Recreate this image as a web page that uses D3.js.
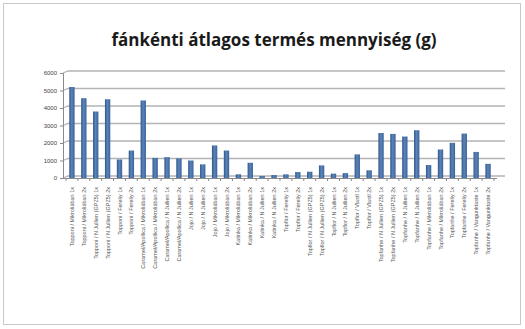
<!DOCTYPE html>
<html>
<head>
<meta charset="utf-8">
<script src="https://cdn.jsdelivr.net/npm/d3@7"></script>
<style>
  html, body { margin: 0; padding: 0; background: #fff; }
  svg { display: block; }
</style>
</head>
<body>
<svg id="chart" width="525" height="329"></svg>
<script>
// Average yield per tree (g), by variety / rootstock / treatment
const categories = [
  "Topponi / Mikroliában 1x", "Topponi / Mikroliában 2x",
  "Topponi / N Jullien (GPZ5) 1x", "Topponi / N Jullien (GPZ5) 2x",
  "Topponi / Fereliy 1x", "Topponi / Fereliy 2x",
  "Caramel/Apollica / Mikroliában 1x", "Caramel/Apollica / Mikroliában 2x",
  "Caramel/Apollica / N Jullien 1x", "Caramel/Apollica / N Jullien 2x",
  "Jojo / N Jullien 1x", "Jojo / N Jullien 2x",
  "Jojo / Mikroliában 1x", "Jojo / Mikroliában 2x",
  "Katinka / Mikroliában 1x", "Katinka / Mikroliában 2x",
  "Katinka / N Jullien 1x", "Katinka / N Jullien 2x",
  "Topflor / Fereliy 1x", "Topflor / Fereliy 2x",
  "Topflor / N Jullien (GPZ5) 1x", "Topflor / N Jullien (GPZ5) 2x",
  "Topflor / N Jullien 1x", "Topflor / N Jullien 2x",
  "Topflor / Vlastl 1x", "Topflor / Vlastl 2x",
  "Topfanhe / N Jullien (GPZ5) 1x", "Topfanhe / N Jullien (GPZ5) 2x",
  "Topfanhe / N Jullien 1x", "Topfanhe / N Jullien 2x",
  "Topfanhe / Mikroliában 1x", "Topfanhe / Mikroliában 2x",
  "Topfanhe / Fereliy 1x", "Topfanhe / Fereliy 2x",
  "Topfanhe / Vangunktaste 1x", "Topfanhe / Vangunktaste 2x"
];
const values = [
  5200, 4560, 3800, 4500, 1060, 1570,
  4430, 1150, 1190, 1120, 1000, 780,
  1860, 1570, 210, 870, 110, 170,
  210, 340, 360, 720, 250, 280,
  1350, 440, 2570, 2520, 2370, 2730,
  740, 1630, 2010, 2540, 1490, 810
];
const yTicks = [0, 1000, 2000, 3000, 4000, 5000, 6000];
const title = "fánkénti átlagos termés mennyiség (g)";

const svg = d3.select("#chart");

// outer frame
svg.append("rect")
  .attr("x", 3.5).attr("y", 3.5)
  .attr("width", 517).attr("height", 321)
  .attr("fill", "#fff")
  .attr("stroke", "#c8c8c8");

// title
svg.append("text")
  .attr("x", 274).attr("y", 46)
  .attr("text-anchor", "middle")
  .attr("font-family", "'Open Sans', sans-serif")
  .attr("font-weight", "bold")
  .attr("font-size", 17)
  .attr("fill", "#1a1a1a")
  .text(title);

const axisX = 63;
const depth = { dx: 5, dy: -2 };   // back-wall offset of the 3-D plot

const x = d3.scaleBand()
  .domain(categories)
  .range([66, 494])
  .paddingInner(0.55)
  .paddingOuter(0.275);

const y = d3.scaleLinear()
  .domain([0, 6000])
  .range([178, 73]);

// back-wall gridlines with the short diagonal joining the axis
const grid = svg.append("g");
yTicks.forEach(t => {
  const yy = y(t) + depth.dy;
  grid.append("path")
    .attr("d", `M${axisX},${y(t)} L${axisX + depth.dx},${yy} L505,${yy}`)
    .attr("fill", "none")
    .attr("stroke", "#b4b4b4")
    .attr("stroke-width", 1.3);
});

// y axis
const yAxis = d3.axisLeft(y)
  .tickValues(yTicks)
  .tickSize(3)
  .tickFormat(d3.format("d"));
const yg = svg.append("g")
  .attr("transform", `translate(${axisX},0)`)
  .call(yAxis);
yg.select(".domain").attr("stroke", "#8a8a8a");
yg.selectAll(".tick line").attr("stroke", "#8a8a8a");
yg.selectAll(".tick text")
  .attr("font-family", "'Liberation Sans', sans-serif")
  .attr("font-size", 6)
  .attr("fill", "#444")
  .attr("x", -6);

// bar shading
const defs = svg.append("defs");
const grad = defs.append("linearGradient")
  .attr("id", "barGrad")
  .attr("x1", "0").attr("x2", "1").attr("y1", "0").attr("y2", "0");
grad.append("stop").attr("offset", "0%").attr("stop-color", "#2f5687");
grad.append("stop").attr("offset", "45%").attr("stop-color", "#5a84bb");
grad.append("stop").attr("offset", "100%").attr("stop-color", "#3a6399");

// bars
svg.append("g").selectAll("rect")
  .data(categories.map((c, i) => ({ c, v: values[i] })))
  .join("rect")
  .attr("x", d => x(d.c))
  .attr("y", d => y(d.v))
  .attr("width", x.bandwidth())
  .attr("height", d => y(0) - y(d.v))
  .attr("fill", "url(#barGrad)");

// x axis
const xAxis = d3.axisBottom(x).tickSize(0).tickFormat("");
const xg = svg.append("g")
  .attr("transform", `translate(0,${y(0)})`)
  .call(xAxis);
xg.select(".domain").attr("stroke", "#8a8a8a").attr("d", `M${axisX},0.5H497`);

// category boundary ticks
const step = x.step();
svg.append("g").selectAll("line")
  .data(d3.range(categories.length + 1))
  .join("line")
  .attr("x1", i => 66 + i * step)
  .attr("x2", i => 66 + i * step)
  .attr("y1", y(0)).attr("y2", y(0) + 3)
  .attr("stroke", "#8a8a8a");

// rotated category labels
svg.append("g").selectAll("text")
  .data(categories)
  .join("text")
  .attr("transform", d => `translate(${x(d) + x.bandwidth() / 2 + 2},187) rotate(-90)`)
  .attr("text-anchor", "end")
  .attr("font-family", "'Liberation Sans', sans-serif")
  .attr("font-size", 5.5)
  .attr("fill", "#555")
  .text(d => d);
</script>
</body>
</html>
